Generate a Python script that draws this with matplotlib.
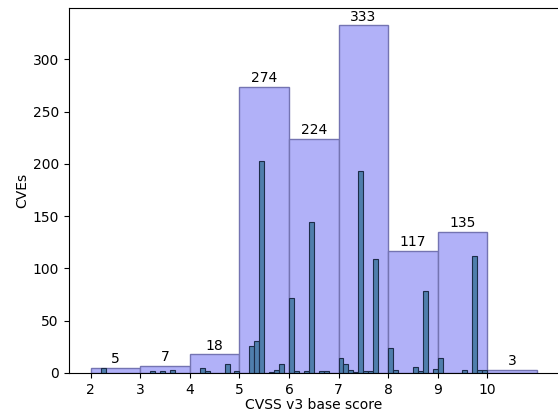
import numpy as np
import matplotlib
matplotlib.use("Agg")
import matplotlib.pyplot as plt

# wide bins (one per integer score)
wide_edges = [2, 3, 4, 5, 6, 7, 8, 9, 10]
wide_counts = [5, 7, 18, 274, 224, 333, 117, 135, 3]

# narrow bins (0.1 wide), left edge -> count
narrow_edges = [2.2, 3.2, 3.4, 3.6,
                4.2, 4.3, 4.7, 4.9,
                5.2, 5.3, 5.4, 5.6, 5.7, 5.8,
                6.0, 6.1, 6.3, 6.4, 6.6, 6.7,
                7.0, 7.1, 7.2, 7.3, 7.4, 7.5, 7.6, 7.7,
                8.0, 8.1, 8.5, 8.6, 8.7, 8.9,
                9.0, 9.5, 9.7, 9.8, 9.9]
narrow_counts = [5, 2, 2, 3,
                 5, 2, 9, 2,
                 26, 31, 203, 1, 3, 9,
                 72, 2, 2, 144, 2, 2,
                 14, 9, 3, 1, 193, 2, 2, 109,
                 24, 3, 6, 2, 78, 4,
                 14, 3, 112, 3, 3]

plt.rcParams['font.size'] = 10

fig = plt.figure(figsize=(5.58, 4.12), dpi=100)
ax = fig.add_axes([68.5 / 558, 1 - 373 / 412, 490.5 / 558, 365.5 / 412])

wide = ax.bar(wide_edges, wide_counts, width=1, align='edge',
              color='#b1b1f8', edgecolor='#7474b2', linewidth=1, zorder=1)
ax.bar_label(wide, padding=1, fontsize=10)

ax.bar(narrow_edges, narrow_counts, width=0.1, align='edge',
       color='#4f7eac', edgecolor='#1c2c48', linewidth=0.8, zorder=2)

ax.set_xlim(1.55, 11.45)
ax.set_ylim(0, 349.65)
ax.set_xticks([2, 3, 4, 5, 6, 7, 8, 9, 10])
ax.set_yticks([0, 50, 100, 150, 200, 250, 300])
ax.set_xlabel('CVSS v3 base score', labelpad=1)
ax.set_ylabel('CVEs', labelpad=2)

plt.savefig("out.png")
